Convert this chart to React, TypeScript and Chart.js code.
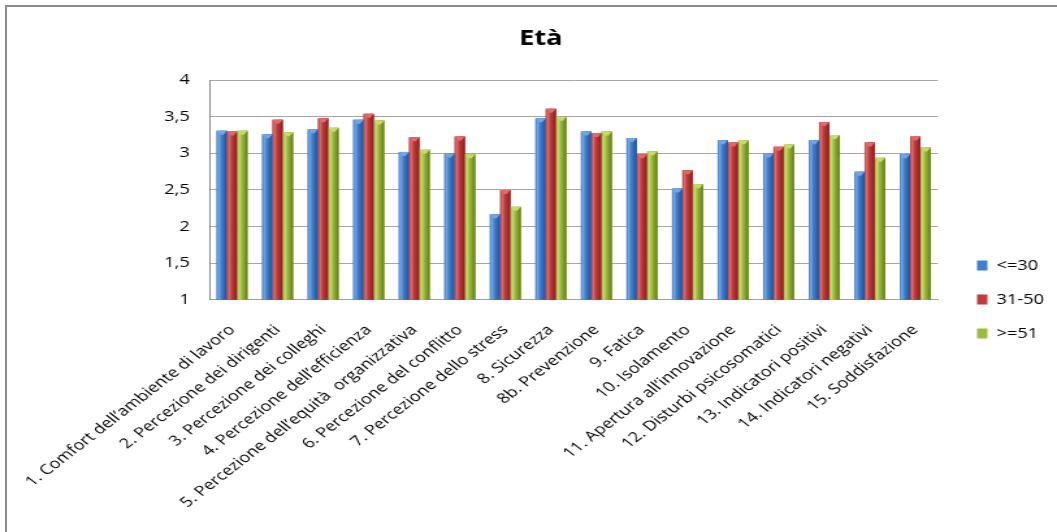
import React, { useEffect, useRef } from "react";
import { Chart, registerables } from "chart.js";

Chart.register(...registerables);

const categories = [
  "1. Comfort dell\u2019ambiente di lavoro",
  "2. Percezione dei dirigenti",
  "3. Percezione dei colleghi",
  "4. Percezione dell\u2019efficienza",
  "5. Percezione dell\u2019equit\u00e0  organizzativa",
  "6. Percezione del conflitto",
  "7. Percezione dello stress",
  "8. Sicurezza",
  "8b. Prevenzione",
  "9. Fatica",
  "10. Isolamento",
  "11. Apertura all\u2019innovazione",
  "12. Disturbi psicosomatici",
  "13. Indicatori positivi",
  "14. Indicatori negativi",
  "15. Soddisfazione",
];

const under30 = [3.31, 3.26, 3.33, 3.46, 3.02, 3.0, 2.17, 3.48, 3.3, 3.21, 2.52, 3.18, 3.0, 3.18, 2.75, 2.99];
const from31to50 = [3.3, 3.46, 3.48, 3.54, 3.22, 3.23, 2.5, 3.61, 3.28, 2.99, 2.77, 3.15, 3.09, 3.43, 3.15, 3.23];
const over51 = [3.31, 3.29, 3.35, 3.45, 3.05, 2.99, 2.27, 3.5, 3.3, 3.03, 2.58, 3.18, 3.12, 3.25, 2.94, 3.08];

const seriesLabels = ["<=30", "31-50", ">=51"];

const yTicks = [1, 1.5, 2, 2.5, 3, 3.5, 4];

// light / mid / dark shades for the bevelled column look
const shades = [
  ["#6fa6e6", "#3f7fcf", "#234f8e"],
  ["#e06a6a", "#c23a3a", "#7e2222"],
  ["#c4dc6a", "#9bbb3b", "#5e7a22"],
];

const FONT = "'Open Sans', 'Noto Sans', sans-serif";

// The drawing surface is rendered narrower and widened by CSS,
// giving the horizontally stretched look of the exported sheet chart.
const VIEW_W = 1057;
const VIEW_H = 532;
const STRETCH = 1.3;
const CANVAS_W = Math.round(VIEW_W / STRETCH);

// Paints each column with a horizontal gradient and a small bevelled cap
const bevelBars = {
  id: "bevelBars",
  afterDatasetsDraw(chart: any) {
    const ctx = chart.ctx;
    const area = chart.chartArea;
    ctx.save();
    ctx.beginPath();
    ctx.rect(area.left, area.top, area.right - area.left, area.bottom - area.top);
    ctx.clip();
    chart.data.datasets.forEach((_ds: any, di: number) => {
      const meta = chart.getDatasetMeta(di);
      if (meta.hidden) return;
      const [light, mid, dark] = shades[di];
      meta.data.forEach((el: any) => {
        const { x, y, base, width } = el.getProps(["x", "y", "base", "width"], true);
        const l = x - width / 2;
        const r = x + width / 2;
        const g = ctx.createLinearGradient(l, 0, r, 0);
        g.addColorStop(0, mid);
        g.addColorStop(0.2, light);
        g.addColorStop(0.45, mid);
        g.addColorStop(1, dark);
        ctx.fillStyle = g;
        ctx.fillRect(l, y, width, base - y);
        // bevelled top
        const cap = Math.min(4, (base - y) / 2);
        ctx.beginPath();
        ctx.moveTo(l, y);
        ctx.lineTo(r, y);
        ctx.lineTo(x + width * 0.15, y + cap);
        ctx.lineTo(x - width * 0.15, y + cap);
        ctx.closePath();
        ctx.fillStyle = light;
        ctx.fill();
      });
    });
    ctx.restore();
  },
};

export default function App() {
  const canvasRef = useRef<HTMLCanvasElement | null>(null);

  useEffect(() => {
    if (!canvasRef.current) return;
    const chart = new Chart(canvasRef.current, {
      type: "bar",
      data: {
        labels: categories,
        datasets: [under30, from31to50, over51].map((values, i) => ({
          label: seriesLabels[i],
          data: values,
          backgroundColor: shades[i][1],
          borderWidth: 0,
          categoryPercentage: 0.68,
          barPercentage: 1,
        })),
      },
      plugins: [bevelBars],
      options: {
        responsive: false,
        animation: false,
        devicePixelRatio: 1,
        layout: { padding: { left: 19, right: 0, top: 26, bottom: 7 } },
        plugins: {
          title: {
            display: true,
            text: "Et\u00e0",
            color: "#000",
            font: { family: FONT, size: 21, weight: "bold" },
            padding: { top: 0, bottom: 29 },
          },
          legend: {
            position: "right",
            align: "center",
            title: {
              display: true,
              text: "",
              font: { size: 1 },
              padding: { top: 47, bottom: 0 },
            },
            labels: {
              color: "#000",
              font: { family: FONT, size: 14 },
              boxWidth: 8,
              boxHeight: 10,
              padding: 20,
            },
          },
          tooltip: { enabled: false },
        },
        scales: {
          x: {
            grid: { display: false },
            border: { display: true, color: "#a0a0a0", width: 1 },
            ticks: {
              color: "#000",
              font: { family: FONT, size: 14 },
              minRotation: 45,
              maxRotation: 45,
              autoSkip: false,
              padding: 14,
            },
          },
          y: {
            min: 1,
            max: 4,
            afterBuildTicks: (scale: any) => {
              scale.ticks = yTicks.map((v) => ({ value: v }));
            },
            afterFit: (scale: any) => {
              scale.width = 142;
            },
            grid: { color: "#a6a6a6", drawTicks: false },
            border: { display: true, color: "#8a8a8a" },
            ticks: {
              color: "#000",
              font: { family: FONT, size: 14 },
              padding: 15,
              callback: (v: any) => String(v).replace(".", ","),
            },
          },
          // empty strip keeping the legend clear of the plot
          gap: {
            type: "linear",
            position: "right",
            display: true,
            grid: { display: false },
            border: { display: false },
            ticks: { display: false },
            afterFit: (scale: any) => {
              scale.width = 10;
            },
          },
        },
      },
    });
    return () => chart.destroy();
  }, []);

  return (
    <div style={{ position: "fixed", left: 0, top: 0, width: VIEW_W, height: VIEW_H, overflow: "hidden", background: "#fff" }}>
      <div
        style={{
          position: "absolute",
          left: 5,
          top: 5,
          width: 1100,
          height: 600,
          borderTop: "2px solid #8c8c8c",
          borderLeft: "2px solid #8c8c8c",
        }}
      />
      <canvas
        ref={canvasRef}
        width={CANVAS_W}
        height={VIEW_H}
        style={{ position: "absolute", left: 0, top: 0, width: VIEW_W, height: VIEW_H }}
      />
    </div>
  );
}
